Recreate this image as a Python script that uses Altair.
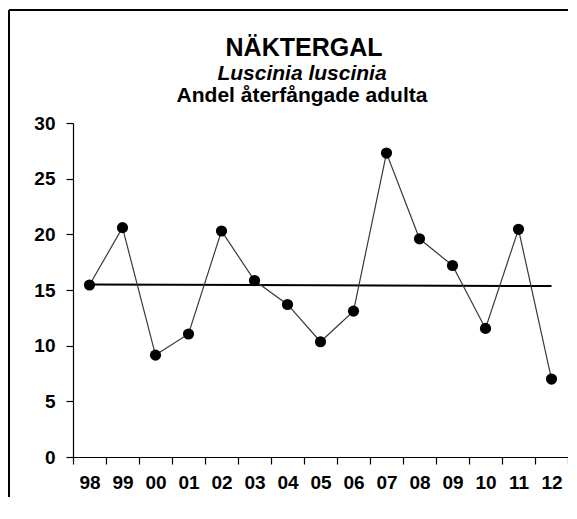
import altair as alt
import pandas as pd

years = ["98", "99", "00", "01", "02", "03", "04", "05", "06", "07", "08", "09", "10", "11", "12"]
values = [15.45, 20.6, 9.15, 11.05, 20.3, 15.85, 13.7, 10.35, 13.1, 27.3, 19.6, 17.2, 11.55, 20.45, 7.0]
trend_years = ["98", "12"]
trend_values = [15.5, 15.35]
y_ticks = [0, 5, 10, 15, 20, 25, 30]
title_main = "NÄKTERGAL"
title_species = "Luscinia luscinia"
title_measure = "Andel återfångade adulta"

W, H = 495, 334
FONT = "Liberation Sans"

df = pd.DataFrame({"year": years, "value": values})
tdf = pd.DataFrame({"year": trend_years, "value": trend_values})

x_enc = alt.X(
    "year:N",
    sort=years,
    scale=alt.Scale(type="band", domain=years, paddingInner=0, paddingOuter=0),
    axis=alt.Axis(title=None, labelAngle=0, tickBand="extent", tickSize=7,
                  labelPadding=9, labelFontSize=19),
)
y_enc = alt.Y(
    "value:Q",
    scale=alt.Scale(domain=[0, 30], nice=False, zero=True),
    axis=alt.Axis(title=None, values=y_ticks, grid=False, tickSize=7,
                  labelPadding=11, labelFontSize=19),
)

line = alt.Chart(df).mark_line(color="#3a3a3a", strokeWidth=1.2).encode(x=x_enc, y=y_enc)
trend = alt.Chart(tdf).mark_line(color="black", strokeWidth=2).encode(x=x_enc, y=y_enc)
points = alt.Chart(df).mark_circle(size=125, color="black", opacity=1).encode(x=x_enc, y=y_enc)

one = pd.DataFrame({"t": [title_main]})
t1 = alt.Chart(pd.DataFrame({"t": [title_main]})).mark_text(
    font=FONT, fontSize=25, fontWeight="bold", align="center", baseline="alphabetic", color="black"
).encode(text="t:N", x=alt.value(231), y=alt.value(-67))
t2 = alt.Chart(pd.DataFrame({"t": [title_species]})).mark_text(
    font=FONT, fontSize=21, fontWeight="bold", fontStyle="italic", align="center",
    baseline="alphabetic", color="black"
).encode(text="t:N", x=alt.value(229), y=alt.value(-43))
t3 = alt.Chart(pd.DataFrame({"t": [title_measure]})).mark_text(
    font=FONT, fontSize=21, fontWeight="bold", align="center", baseline="alphabetic", color="black"
).encode(text="t:N", x=alt.value(229), y=alt.value(-21.5))

border_top = alt.Chart(one).mark_rule(color="black", strokeWidth=2).encode(
    x=alt.value(-64), x2=alt.value(W), y=alt.value(-113), y2=alt.value(-113)
)
border_left = alt.Chart(one).mark_rule(color="black", strokeWidth=2).encode(
    x=alt.value(-64), x2=alt.value(-64), y=alt.value(-113), y2=alt.value(H + 40)
)

chart = alt.layer(border_top, border_left, trend, line, points, t1, t2, t3).properties(
    width=W,
    height=H,
    padding={"left": 65, "top": 115, "right": 0, "bottom": 40},
    autosize=alt.AutoSizeParams(type="none"),
).configure_view(stroke=None).configure_axis(
    labelFont=FONT,
    labelFontWeight="bold",
    labelColor="black",
    domainColor="black",
    domainWidth=1.2,
    tickColor="black",
    tickWidth=1.2,
)

chart.save("out.html", embed_options={"renderer": "svg", "actions": False})
